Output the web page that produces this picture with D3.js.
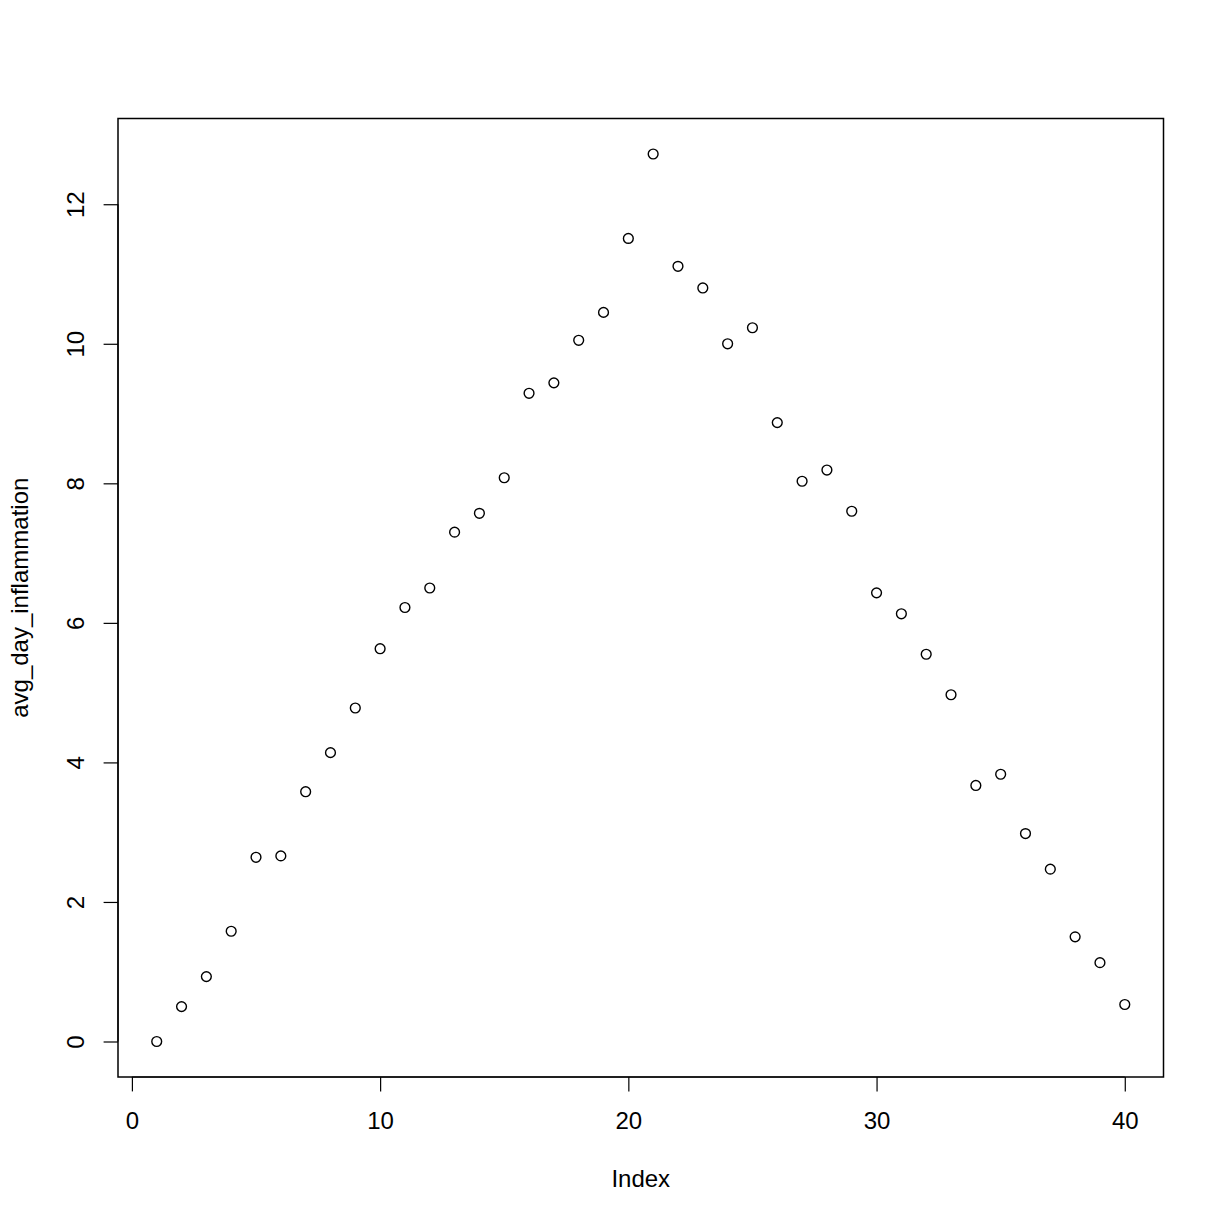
<!DOCTYPE html>
<html>
<head>
<meta charset="utf-8">
<script src="https://cdn.jsdelivr.net/npm/d3@7"></script>
<style>
  html, body { margin: 0; padding: 0; background: #fff; }
  text { font-family: "Liberation Sans", Arial, Helvetica, sans-serif; fill: #000; }
</style>
</head>
<body>
<script>
const index = d3.range(1, 41);
const avgDayInflammation = [
  0.00, 0.50, 0.93, 1.58, 2.64, 2.66, 3.58, 4.14, 4.78, 5.63,
  6.22, 6.50, 7.30, 7.57, 8.08, 9.29, 9.44, 10.05, 10.45, 11.51,
  12.72, 11.11, 10.80, 10.00, 10.23, 8.87, 8.03, 8.19, 7.60, 6.43,
  6.13, 5.55, 4.97, 3.67, 3.83, 2.98, 2.47, 1.50, 1.13, 0.53
];
const xTicks = [0, 10, 20, 30, 40];
const yTicks = [0, 2, 4, 6, 8, 10, 12];
const xTitle = "Index";
const yTitle = "avg_day_inflammation";

const W = 1224, H = 1224;
const mLeft = 118, mRight = 1163.5, mTop = 118.5, mBottom = 1077;

const xmin = d3.min(index), xmax = d3.max(index);
const xpad = (xmax - xmin) * 0.04;
const ymin = d3.min(avgDayInflammation), ymax = d3.max(avgDayInflammation);
const ypad = (ymax - ymin) * 0.04;

const x = d3.scaleLinear().domain([xmin - xpad, xmax + xpad]).range([mLeft, mRight]);
const y = d3.scaleLinear().domain([ymin - ypad, ymax + ypad]).range([mBottom, mTop]);

const svg = d3.select("body").append("svg").attr("width", W).attr("height", H);
svg.append("rect").attr("width", W).attr("height", H).attr("fill", "#fff");

// points
svg.append("g").selectAll("circle").data(avgDayInflammation).join("circle")
  .attr("cx", (d, i) => x(index[i]))
  .attr("cy", d => y(d))
  .attr("r", 4.9)
  .attr("fill", "none")
  .attr("stroke", "#000")
  .attr("stroke-width", 1.4);

// box
svg.append("rect")
  .attr("x", mLeft).attr("y", mTop)
  .attr("width", mRight - mLeft).attr("height", mBottom - mTop)
  .attr("fill", "none").attr("stroke", "#000").attr("stroke-width", 1.5);

// x axis
const gx = svg.append("g").attr("transform", `translate(0,${mBottom})`)
  .call(d3.axisBottom(x).tickValues(xTicks).tickSize(14.4).tickSizeOuter(0).tickPadding(0).tickFormat(d3.format("d")));
gx.select(".domain").attr("d", `M${x(xTicks[0])},0H${x(xTicks[xTicks.length-1])}`).attr("stroke-width", 1.2);
gx.selectAll(".tick line").attr("stroke-width", 1.2);
gx.selectAll(".tick text").attr("font-size", 24).attr("y", 52).attr("dy", 0)
  .style("font-family", "'Liberation Sans', Arial, sans-serif");

// y axis
const gy = svg.append("g").attr("transform", `translate(${mLeft},0)`)
  .call(d3.axisLeft(y).tickValues(yTicks).tickSize(14.4).tickSizeOuter(0).tickPadding(0).tickFormat(d3.format("d")));
gy.select(".domain").attr("d", `M0,${y(yTicks[0])}V${y(yTicks[yTicks.length-1])}`).attr("stroke-width", 1.2);
gy.selectAll(".tick line").attr("stroke-width", 1.2);
gy.selectAll(".tick text")
  .attr("font-size", 24)
  .attr("x", null).attr("dy", null)
  .attr("text-anchor", "middle")
  .attr("transform", "translate(-34,0) rotate(-90)")
  .style("font-family", "'Liberation Sans', Arial, sans-serif");

// titles
svg.append("text")
  .attr("x", (mLeft + mRight) / 2).attr("y", 1187)
  .attr("text-anchor", "middle").attr("font-size", 24)
  .text(xTitle);
svg.append("text")
  .attr("transform", `translate(28,${(mTop + mBottom) / 2}) rotate(-90)`)
  .attr("text-anchor", "middle").attr("font-size", 24)
  .text(yTitle);
</script>
</body>
</html>
